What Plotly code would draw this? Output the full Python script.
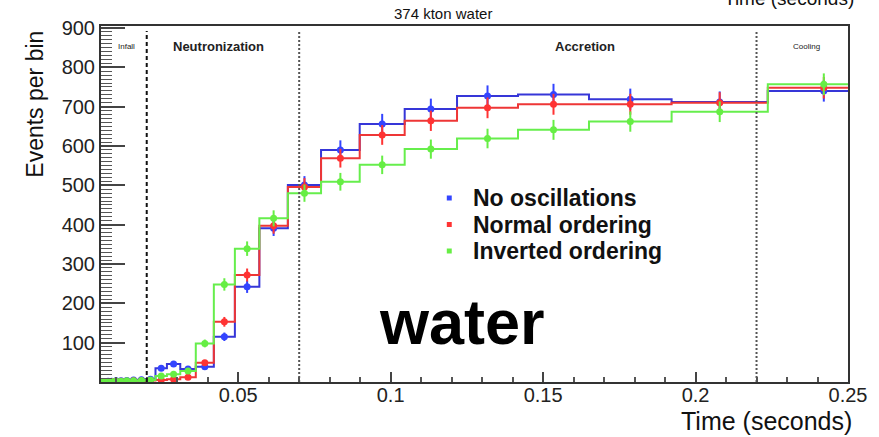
import numpy as np
import plotly.graph_objects as go

# Log-spaced time bins (seconds); the last bin runs past the axis end.
bin_edges = [0.0050, 0.00582, 0.00678, 0.00789, 0.00919, 0.01069, 0.01245, 0.01449,
             0.01687, 0.01964, 0.02287, 0.02662, 0.03100, 0.03609, 0.04201, 0.04891,
             0.05694, 0.06629, 0.07717, 0.08985, 0.10460, 0.12177, 0.14177, 0.16505,
             0.19215, 0.22370, 0.26043]

# Events per bin for each oscillation scenario
no_osc = [1, 1, 2, 2, 3, 3, 4, 5, 6, 7, 35, 46, 33, 39, 115, 242, 391, 501,
          590, 656, 694, 727, 731, 719, 712, 740]
normal_ord = [0, 0, 1, 1, 1, 2, 2, 3, 3, 4, 5, 7, 12, 49, 153, 272, 397, 496,
              569, 628, 664, 697, 706, 706, 710, 748]
inverted_ord = [0, 1, 1, 1, 2, 2, 3, 3, 4, 5, 15, 20, 28, 98, 248, 339, 416, 480,
                509, 552, 592, 619, 641, 662, 687, 757]

series_names = ["No oscillations", "Normal ordering", "Inverted ordering"]
series_values = [no_osc, normal_ord, inverted_ord]
line_colors = ["#3636d8", "#ee3636", "#66ee4c"]
marker_colors = ["#3344ff", "#ff3333", "#66ee44"]

# Phase boundaries and labels
phase_lines = [0.02, 0.07, 0.22]
phase_labels = ["Infall", "Neutronization", "Accretion", "Cooling"]
phase_label_x = [0.0134, 0.0436, 0.1636, 0.2365]

x_tick_vals = [0.05, 0.1, 0.15, 0.2, 0.25]
x_tick_text = ["0.05", "0.1", "0.15", "0.2", "0.25"]
y_tick_vals = [100, 200, 300, 400, 500, 600, 700, 800, 900]

FONT = "Liberation Sans, Arial, Helvetica, sans-serif"

# pixel layout of the frame
L, R, T, B = 101, 856, 26, 382
W, H = R - L, B - T


def px_x(p):
    return (p - L) / W


def px_y(p):
    return (B - p) / H


edges = np.array(bin_edges)
centers = 0.5 * (edges[:-1] + edges[1:])

fig = go.Figure()

for name, vals, lc, mc in zip(series_names, series_values, line_colors, marker_colors):
    v = np.array(vals, dtype=float)
    # step outline of the histogram
    fig.add_trace(go.Scatter(
        x=edges, y=np.append(v, v[-1]), mode="lines", name=name,
        line=dict(shape="hv", color=lc, width=2),
        showlegend=False, hoverinfo="skip", cliponaxis=True,
    ))
    # bin contents with Poisson error bars
    fig.add_trace(go.Scatter(
        x=centers, y=v, mode="markers", name=name,
        marker=dict(color=mc, size=7, line=dict(width=0)),
        error_y=dict(type="data", array=np.sqrt(v), color=mc, thickness=2, width=0),
        showlegend=False, cliponaxis=True,
    ))

shapes = []
for i, xv in enumerate(phase_lines):
    if i == 0:
        ln = dict(color="#111111", width=2, dash="4px,3px")
    else:
        ln = dict(color="#555555", width=2, dash="2px,2px")
    shapes.append(dict(type="line", xref="x", yref="paper", x0=xv, x1=xv,
                       y0=0, y1=px_y(31), line=ln, layer="above"))

annotations = []
label_sizes = [8, 13, 13, 8]
label_bold = [False, True, True, False]
for lab, xv, fs, b in zip(phase_labels, phase_label_x, label_sizes, label_bold):
    annotations.append(dict(
        x=xv, y=px_y(46), xref="x", yref="paper", showarrow=False,
        text=f"<b>{lab}</b>" if b else lab,
        font=dict(family=FONT, size=fs, color="#222222"),
        xanchor="center", yanchor="middle",
    ))

# legend: colored squares with bold labels
for i, (name, mc) in enumerate(zip(series_names, marker_colors)):
    yc = 198 + 26.5 * i
    shapes.append(dict(type="rect", xref="paper", yref="paper",
                       x0=px_x(450.5), x1=px_x(455.5), y0=px_y(yc + 2.5), y1=px_y(yc - 2.5),
                       fillcolor=mc, line=dict(width=0), layer="above"))
    annotations.append(dict(
        x=px_x(475), y=px_y(yc), xref="paper", yref="paper", showarrow=False,
        text=f"<b>{name}</b>", font=dict(family=FONT, size=23, color="#111111"),
        xanchor="left", yanchor="middle",
    ))

annotations += [
    dict(x=px_x(447), y=px_y(14), xref="paper", yref="paper",
         text="374 kton water", showarrow=False,
         font=dict(family=FONT, size=15, color="#111111"),
         xanchor="center", yanchor="middle"),
    dict(x=px_x(862), y=px_y(421), xref="paper", yref="paper",
         text="Time (seconds)", showarrow=False,
         font=dict(family=FONT, size=25, color="#111111"),
         xanchor="right", yanchor="middle"),
    dict(x=px_x(864), y=px_y(11), xref="paper", yref="paper",
         text="Time (seconds)", showarrow=False,
         font=dict(family=FONT, size=19, color="#111111"),
         xanchor="right", yanchor="bottom"),
    dict(x=px_x(34), y=px_y(104), xref="paper", yref="paper",
         text="Events per bin", showarrow=False, textangle=-90,
         font=dict(family=FONT, size=23, color="#111111"),
         xanchor="center", yanchor="middle"),
    dict(x=px_x(466), y=px_y(322), xref="paper", yref="paper",
         text="<b>water</b>", showarrow=False,
         font=dict(family=FONT, size=63, color="#000000"),
         xanchor="center", yanchor="middle"),
]

fig.update_layout(
    width=879, height=437,
    margin=dict(l=L, r=879 - R, t=T, b=437 - B),
    paper_bgcolor="white", plot_bgcolor="white",
    font=dict(family=FONT, color="#111111"),
    shapes=shapes, annotations=annotations,
    showlegend=False,
    xaxis=dict(
        range=[0.005, 0.25], showgrid=False, zeroline=False,
        showline=True, linecolor="#333333", linewidth=2, mirror=True,
        ticks="inside", ticklen=10, tickwidth=1.5, tickcolor="#444444",
        tickvals=x_tick_vals, ticktext=x_tick_text, ticklabelstandoff=-6,
        tickfont=dict(family=FONT, size=20, color="#222222"),
        minor=dict(dtick=0.01, tick0=0, ticks="inside", ticklen=5, tickwidth=1.5,
                   tickcolor="#555555"),
    ),
    yaxis=dict(
        range=[0, 905], showgrid=False, zeroline=False,
        showline=True, linecolor="#333333", linewidth=2, mirror=True,
        ticks="inside", ticklen=24, tickwidth=1.5, tickcolor="#444444",
        tickvals=y_tick_vals,
        tickfont=dict(family=FONT, size=20, color="#222222"),
        minor=dict(dtick=10, tick0=0, ticks="inside", ticklen=11, tickwidth=1,
                   tickcolor="#555555"),
    ),
)

fig.write_html("out.html")
